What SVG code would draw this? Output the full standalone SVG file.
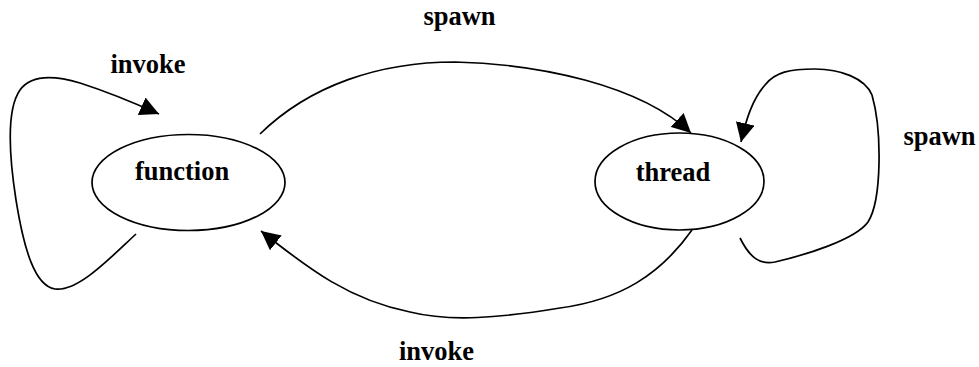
<svg xmlns="http://www.w3.org/2000/svg" width="979" height="367" viewBox="0 0 979 367">
<style>
.node{fill:none;stroke:#000;stroke-width:1.7}
.edge{fill:none;stroke:#000;stroke-width:1.7}
text{font-family:"Liberation Serif","Times New Roman",serif;font-weight:bold;font-size:26.5px;fill:#000;text-anchor:middle}
</style>
<defs>
<marker id="arr" viewBox="0 0 19 19" refX="19" refY="9.5" markerWidth="19" markerHeight="19" markerUnits="userSpaceOnUse" orient="auto">
<path d="M0,0 L19,9.5 L0,19 z" fill="#000"/>
</marker>
</defs>
<rect width="979" height="367" fill="#fff"/>
<g id="function">
<ellipse class="node" cx="188.5" cy="182.5" rx="96.5" ry="48"/>
<text x="182" y="180">function</text>
</g>
<g id="thread">
<ellipse class="node" cx="679.5" cy="181.5" rx="84.5" ry="48.5"/>
<text x="673" y="181">thread</text>
</g>
<g id="connectors">
<path class="edge" marker-end="url(#arr)" d="M136,234 C110,258 78,292 55,289 C35,286 24,250 16,200 C9,155 6,110 20,90 C30,76 50,74 80,83 C105,91 130,101 159,114"/>
<path class="edge" marker-end="url(#arr)" d="M260,134 C310,85 380,62 455,62 C540,64 640,85 691,133"/>
<path class="edge" marker-end="url(#arr)" d="M692,230 C660,275 620,300 560,308 C500,318 450,322 410,312 C350,300 310,270 261,231"/>
<path class="edge" marker-end="url(#arr)" d="M740,238 C750,258 760,265 775,262 C805,255 855,240 868,222 C882,200 882,130 872,95 C865,78 840,69 815,69 C790,69 775,72 765,85 C752,100 746,120 741,142"/>
<text x="148" y="73">invoke</text>
<text x="459.5" y="25">spawn</text>
<text x="939.5" y="145">spawn</text>
<text x="436.5" y="360">invoke</text>
</g>
</svg>
